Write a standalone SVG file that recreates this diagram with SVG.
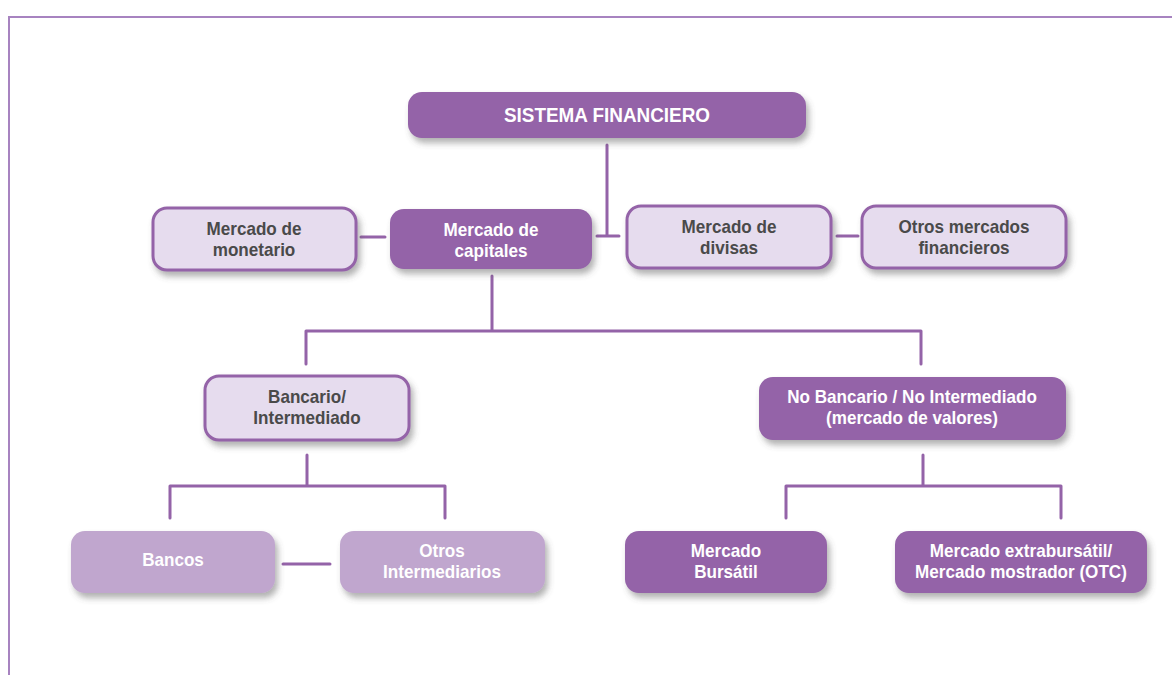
<svg xmlns="http://www.w3.org/2000/svg" width="1172" height="675" viewBox="0 0 1172 675">
<defs>
<filter id="sh" x="-10%" y="-20%" width="125%" height="160%">
<feDropShadow dx="3" dy="5" stdDeviation="3" flood-color="#555" flood-opacity="0.45"/>
</filter>
<style>
.dark{fill:#9463a8;}
.light{fill:#e6dcee;stroke:#9463a8;stroke-width:3;}
.pale{fill:#c0a6ce;}
.t{font-family:"Liberation Sans",Arial,sans-serif;font-weight:bold;font-size:18px;text-anchor:middle;}
.tw{fill:#ffffff;}
.td{fill:#4a4a4a;}
.title{font-size:21px;}
.c{fill:none;stroke:#9463a8;stroke-width:3;stroke-linecap:round;}
</style>
</defs>
<rect width="1172" height="675" fill="#ffffff"/>
<path d="M9,700 V17 H1190" fill="none" stroke="#a783c0" stroke-width="2"/>
<g id="connectors">
<path class="c" d="M607,145 V236 M597,236 H619"/>
<path class="c" d="M361,237 H385"/>
<path class="c" d="M837,236 H858"/>
<path class="c" d="M492,276 V331 M306,331 H921 M306,331 V364 M921,331 V364"/>
<path class="c" d="M307,455 V486 M170,486 H445 M170,486 V518 M445,486 V518"/>
<path class="c" d="M923,455 V486 M786,486 H1061 M786,486 V518 M1061,486 V518"/>
<path class="c" d="M283,564 H330"/>
</g>
<g id="n-sistema"><rect class="dark" filter="url(#sh)" x="408" y="92" width="398" height="46" rx="14"/><text class="t tw title" transform="translate(607 0) scale(0.9 1)" x="0" y="122">SISTEMA FINANCIERO</text></g>
<g id="n-monetario"><rect class="light" filter="url(#sh)" x="153" y="208" width="203" height="62" rx="14"/><g class="t td" transform="translate(254 0) scale(0.95 1)"><text x="0" y="235">Mercado de</text><text x="0" y="256">monetario</text></g></g>
<g id="n-capitales"><rect class="dark" filter="url(#sh)" x="390" y="209" width="202" height="60" rx="14"/><g class="t tw" transform="translate(491 0) scale(0.95 1)"><text x="0" y="236">Mercado de</text><text x="0" y="257">capitales</text></g></g>
<g id="n-divisas"><rect class="light" filter="url(#sh)" x="627" y="206" width="204" height="62" rx="14"/><g class="t td" transform="translate(729 0) scale(0.95 1)"><text x="0" y="233">Mercado de</text><text x="0" y="254">divisas</text></g></g>
<g id="n-otros-mercados"><rect class="light" filter="url(#sh)" x="862" y="206" width="204" height="62" rx="14"/><g class="t td" transform="translate(964 0) scale(0.95 1)"><text x="0" y="233">Otros mercados</text><text x="0" y="254">financieros</text></g></g>
<g id="n-bancario"><rect class="light" filter="url(#sh)" x="205" y="376" width="204" height="64" rx="14"/><g class="t td" transform="translate(307 0) scale(0.95 1)"><text x="0" y="403">Bancario/</text><text x="0" y="424">Intermediado</text></g></g>
<g id="n-nobancario"><rect class="dark" filter="url(#sh)" x="759" y="377" width="307" height="63" rx="14"/><g class="t tw" transform="translate(912 0) scale(0.95 1)"><text x="0" y="403">No Bancario / No Intermediado</text><text x="0" y="424">(mercado de valores)</text></g></g>
<g id="n-bancos"><rect class="pale" filter="url(#sh)" x="71" y="531" width="204" height="62" rx="14"/><g class="t tw" transform="translate(173 0) scale(0.95 1)"><text x="0" y="566">Bancos</text></g></g>
<g id="n-otros-intermediarios"><rect class="pale" filter="url(#sh)" x="340" y="531" width="205" height="62" rx="14"/><g class="t tw" transform="translate(442 0) scale(0.95 1)"><text x="0" y="557">Otros</text><text x="0" y="578">Intermediarios</text></g></g>
<g id="n-bursatil"><rect class="dark" filter="url(#sh)" x="625" y="531" width="202" height="62" rx="14"/><g class="t tw" transform="translate(726 0) scale(0.95 1)"><text x="0" y="557">Mercado</text><text x="0" y="578">Bursátil</text></g></g>
<g id="n-extrabursatil"><rect class="dark" filter="url(#sh)" x="895" y="531" width="252" height="62" rx="14"/><g class="t tw" transform="translate(1021 0) scale(0.95 1)"><text x="0" y="557">Mercado extrabursátil/</text><text x="0" y="578">Mercado mostrador (OTC)</text></g></g>
</svg>
